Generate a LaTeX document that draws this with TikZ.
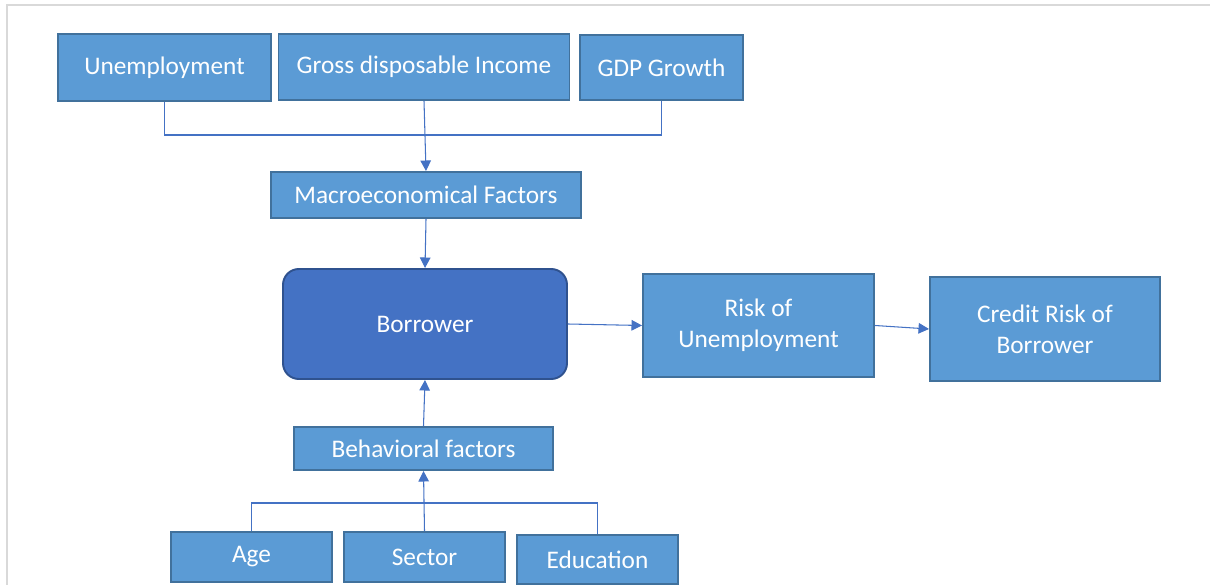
\documentclass[tikz,border=0pt]{standalone}
\usepackage{fontspec}
\setmainfont{Carlito}
\usepackage{tikz}
\usetikzlibrary{arrows.meta,positioning,calc}
\usepackage{xcolor}
\definecolor{boxblue}   {RGB}{91, 155, 213}
\definecolor{boxedge}   {RGB}{65, 113, 156}
\definecolor{borrowblue}{RGB}{68, 114, 196}
\definecolor{borrowedge}{RGB}{47,  82, 143}
\definecolor{linkblue}  {RGB}{68, 114, 196}
\definecolor{gridgray}  {RGB}{217,217,217}

\begin{document}
\begin{tikzpicture}[
  every node/.style={font=\fontsize{14.4}{17.5}\selectfont},
  factor/.style={draw=boxedge,line width=1.1pt,fill=boxblue,text=white,
                 align=center,inner sep=2pt},
  core/.style={draw=borrowedge,line width=1.1pt,fill=borrowblue,text=white,
               rounded corners=9pt,align=center},
  link/.style={draw=linkblue,line width=0.6pt},
  arr/.style={link,-{Triangle[length=6pt,width=6pt]}},
]

%% Page and sheet border
\useasboundingbox (0,0) rectangle (24.2,-11.7);
\draw[gridgray,line width=1.2pt] (0.14,-11.7) -- (0.14,-0.10) -- (24.2,-0.10);

%% Macro factors (top row)
\node[factor,minimum width=4.26cm,minimum height=1.34cm] (unemp) at (3.29,-1.35) {Unemployment};
\node[factor,minimum width=5.82cm,minimum height=1.32cm] (gross) at (8.48,-1.34) {Gross disposable Income};
\node[factor,minimum width=3.26cm,minimum height=1.30cm] (gdp)   at (13.23,-1.35) {GDP Growth};

\node[factor,minimum width=6.20cm,minimum height=0.92cm] (macro) at (8.52,-3.90) {Macroeconomical Factors};

%% Borrower and outcomes
\node[core,minimum width=5.68cm,minimum height=2.20cm] (borrower) at (8.50,-6.48) {Borrower};
\node[factor,minimum width=4.62cm,minimum height=2.06cm] (risk)   at (15.17,-6.51) {Risk of\\Unemployment};
\node[factor,minimum width=4.60cm,minimum height=2.08cm] (credit) at (20.90,-6.58) {Credit Risk of\\Borrower};

%% Behavioral factors (bottom row)
\node[factor,minimum width=5.18cm,minimum height=0.86cm] (behav) at (8.47,-8.97) {Behavioral factors};
\node[factor,minimum width=3.22cm,minimum height=1.00cm] (age)    at (5.03,-11.14) {Age};
\node[factor,minimum width=3.22cm,minimum height=1.00cm] (sector) at (8.49,-11.14) {Sector};
\node[factor,minimum width=3.22cm,minimum height=0.98cm] (educ)   at (11.95,-11.19) {Education};

%% Bus lines
\coordinate (topbus) at (0,-2.70);
\coordinate (botbus) at (0,-10.06);

\draw[link] (unemp.south) -- (unemp.south |- topbus) -- (gdp.south |- topbus) -- (gdp.south);
\draw[arr] (gross.south) -- (macro.north);
\draw[arr] (macro.south) -- (borrower.north);

\draw[arr] (borrower.east) -- (risk.west);
\draw[arr] (risk.east) -- (credit.west);

\draw[link] (age.north) -- (age.north |- botbus) -- (educ.north |- botbus) -- (educ.north);
\draw[arr] (sector.north) -- (behav.south);
\draw[arr] (behav.north) -- (borrower.south);

\end{tikzpicture}
\end{document}
